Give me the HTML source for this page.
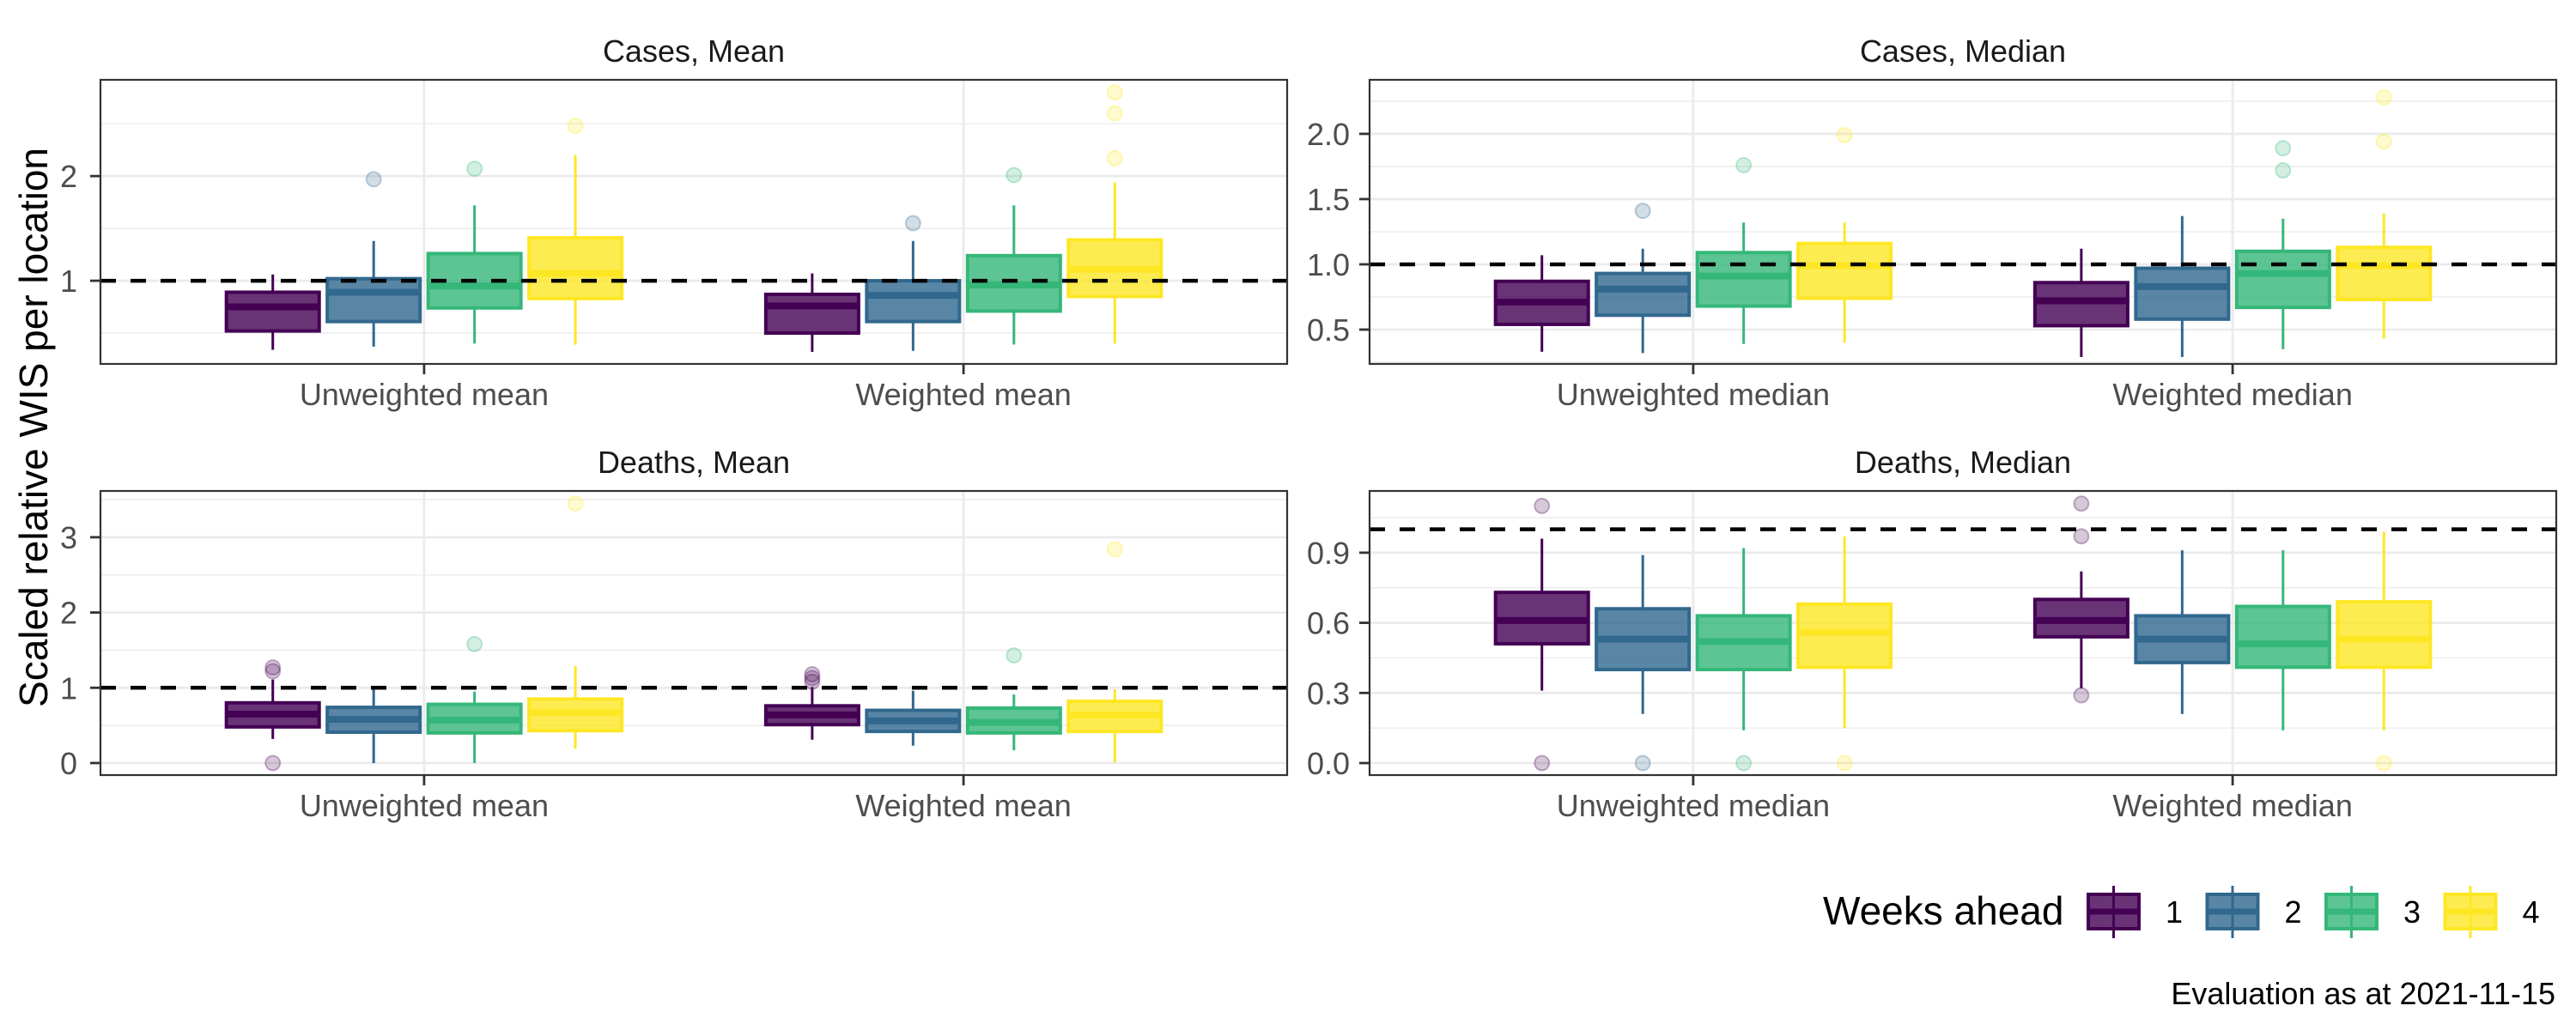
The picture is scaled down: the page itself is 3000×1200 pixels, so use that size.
<!DOCTYPE html>
<html><head><meta charset="utf-8"><style>
html,body{margin:0;padding:0;background:#fff;}
svg{display:block;font-family:"Liberation Sans",Arial,sans-serif;}
</style></head><body>
<svg id="chart" width="3000" height="1200" viewBox="0 0 3000 1200" xmlns="http://www.w3.org/2000/svg">
<text transform="translate(55,498) rotate(-90)" text-anchor="middle" font-size="46" fill="#000">Scaled relative WIS per location</text>
<g id="panels"></g>
<g id="legend">
<text x="2123" y="1077" font-size="46" fill="#000">Weeks ahead</text>
</g>
<text x="2976" y="1170" text-anchor="end" font-size="36" fill="#000">Evaluation as at 2021-11-15</text>
</svg>
<script>
const colors = ["#440154","#31688E","#35B779","#FDE725"];
const weeks = ["1","2","3","4"];
// Each box: [whiskerLow, q1, median, q3, whiskerHigh]
const casesMeanUnweighted = [[0.34,0.52,0.75,0.89,1.06],[0.37,0.61,0.89,1.02,1.38],[0.40,0.74,0.95,1.26,1.72],[0.39,0.83,1.07,1.41,2.20]];
const casesMeanWeighted   = [[0.32,0.50,0.76,0.87,1.07],[0.33,0.61,0.86,1.00,1.38],[0.39,0.71,0.96,1.24,1.72],[0.40,0.85,1.11,1.39,1.94]];
const casesMeanOutU = [[],[1.97],[2.07],[2.48]];
const casesMeanOutW = [[],[1.55],[2.01],[2.80,2.60,2.17]];
const casesMedUnweighted = [[0.33,0.54,0.71,0.87,1.07],[0.32,0.61,0.81,0.93,1.12],[0.39,0.68,0.91,1.09,1.32],[0.40,0.74,0.99,1.16,1.32]];
const casesMedWeighted   = [[0.29,0.53,0.72,0.86,1.12],[0.29,0.58,0.83,0.97,1.37],[0.35,0.67,0.93,1.10,1.35],[0.43,0.73,0.99,1.13,1.39]];
const casesMedOutU = [[],[1.41],[1.76],[1.99]];
const casesMedOutW = [[],[],[1.89,1.72],[2.28,1.94]];
const deathsMeanUnweighted = [[0.32,0.48,0.65,0.80,1.11],[0.0,0.41,0.58,0.74,0.99],[0.0,0.40,0.57,0.78,0.95],[0.19,0.43,0.67,0.85,1.29]];
const deathsMeanWeighted   = [[0.31,0.51,0.64,0.76,1.01],[0.23,0.42,0.56,0.70,0.96],[0.17,0.40,0.54,0.73,0.91],[0.01,0.42,0.64,0.82,0.98]];
const deathsMeanOutU = [[1.27,1.22,0.0],[],[1.58],[3.45]];
const deathsMeanOutW = [[1.18,1.13,1.08],[],[1.43],[2.84]];
const deathsMedUnweighted = [[0.31,0.51,0.61,0.73,0.96],[0.21,0.40,0.53,0.66,0.89],[0.14,0.40,0.52,0.63,0.92],[0.15,0.41,0.56,0.68,0.97]];
const deathsMedWeighted   = [[0.32,0.54,0.61,0.70,0.82],[0.21,0.43,0.53,0.63,0.91],[0.14,0.41,0.51,0.67,0.91],[0.14,0.41,0.53,0.69,0.99]];
const deathsMedOutU = [[1.10,0.0],[0.0],[0.0],[0.0]];
const deathsMedOutW = [[1.11,0.97,0.29],[],[],[0.0]];
const ticksCasesMean = [1,2];
const ticksCasesMed = [0.5,1.0,1.5,2.0];
const ticksDeathsMean = [0,1,2,3];
const ticksDeathsMed = [0.0,0.3,0.6,0.9];

const NS="http://www.w3.org/2000/svg";
function mk(tag,attrs,parent){const e=document.createElementNS(NS,tag);for(const k in attrs)e.setAttribute(k,attrs[k]);if(parent)parent.appendChild(e);return e;}

const panels=[
 {name:"cases-mean",title:"Cases, Mean",x0:117,x1:1499,y0:93,y1:424,vmin:0.205,vmax:2.92,ticks:ticksCasesMean,dec:0,minor:[0.5,1.5,2.5],cats:["Unweighted mean","Weighted mean"],data:[casesMeanUnweighted,casesMeanWeighted],out:[casesMeanOutU,casesMeanOutW],stripY:72,labY:472,tickX:90},
 {name:"cases-median",title:"Cases, Median",x0:1595,x1:2977,y0:93,y1:424,vmin:0.2368,vmax:2.414,ticks:ticksCasesMed,dec:1,minor:[0.25,0.75,1.25,1.75,2.25],cats:["Unweighted median","Weighted median"],data:[casesMedUnweighted,casesMedWeighted],out:[casesMedOutU,casesMedOutW],stripY:72,labY:472,tickX:1572},
 {name:"deaths-mean",title:"Deaths, Mean",x0:117,x1:1499,y0:572,y1:903,vmin:-0.16,vmax:3.615,ticks:ticksDeathsMean,dec:0,minor:[0.5,1.5,2.5,3.5],cats:["Unweighted mean","Weighted mean"],data:[deathsMeanUnweighted,deathsMeanWeighted],out:[deathsMeanOutU,deathsMeanOutW],stripY:551,labY:951,tickX:90},
 {name:"deaths-median",title:"Deaths, Median",x0:1595,x1:2977,y0:572,y1:903,vmin:-0.0514,vmax:1.164,ticks:ticksDeathsMed,dec:1,minor:[0.15,0.45,0.75,1.05],cats:["Unweighted median","Weighted median"],data:[deathsMedUnweighted,deathsMedWeighted],out:[deathsMedOutU,deathsMedOutW],stripY:551,labY:951,tickX:1572}
];
const root=document.getElementById('panels');
panels.forEach(p=>{
 const g=mk('g',{},root);
 
 
 const ys=v=>p.y1-(v-p.vmin)/(p.vmax-p.vmin)*(p.y1-p.y0);
 const W=p.x1-p.x0;
 const xs=c=>p.x0+(0.6+c)/2.2*W;
 const unit=W/2.2;
 const t=mk('text',{x:(p.x0+p.x1)/2,y:p.stripY,'text-anchor':'middle','font-size':36,fill:'#1a1a1a'},g);
 t.textContent=p.title;
 
 
 p.minor.forEach(v=>{const y=ys(v);if(y>p.y0&&y<p.y1){mk('line',{x1:p.x0,x2:p.x1,y1:y,y2:y,stroke:'#ebebeb','stroke-width':1.4},g);}});
 p.ticks.forEach(v=>{const y=ys(v);mk('line',{x1:p.x0,x2:p.x1,y1:y,y2:y,stroke:'#ebebeb','stroke-width':2.8},g);});
 p.cats.forEach((c,i)=>{mk('line',{x1:xs(i),x2:xs(i),y1:p.y0,y2:p.y1,stroke:'#ebebeb','stroke-width':2.8},g);});
 const slot=0.187*unit, bw=0.172*unit;
 p.data.forEach((cat,ci)=>{
  cat.forEach((b,wi)=>{
   const cx=xs(ci)+(wi-1.5)*slot, col=colors[wi];
   const bg=mk('g',{},g);
   
   
   mk('line',{x1:cx,x2:cx,y1:ys(b[0]),y2:ys(b[1]),stroke:col,'stroke-width':3},bg);
   mk('line',{x1:cx,x2:cx,y1:ys(b[3]),y2:ys(b[4]),stroke:col,'stroke-width':3},bg);
   mk('rect',{x:cx-bw/2,y:ys(b[3]),width:bw,height:ys(b[1])-ys(b[3]),fill:col,'fill-opacity':0.8,stroke:col,'stroke-width':4},bg);
   mk('line',{x1:cx-bw/2,x2:cx+bw/2,y1:ys(b[2]),y2:ys(b[2]),stroke:col,'stroke-width':8},bg);
   p.out[ci][wi].forEach(v=>{
    const o=mk('circle',{cx:cx,cy:ys(v),r:8.5,fill:col,'fill-opacity':0.22,stroke:col,'stroke-opacity':0.3,'stroke-width':2},g);
    
    
   });
  });
 });
 const yd=ys(1);
 const dl=mk('line',{x1:p.x0,x2:p.x1,y1:yd,y2:yd,stroke:'#000','stroke-width':4.5,'stroke-dasharray':'18 17'},g);
 
 
 const fr=mk('rect',{x:p.x0,y:p.y0,width:W,height:p.y1-p.y0,fill:'none',stroke:'#333','stroke-width':2.2},g);
 
 
 p.ticks.forEach(v=>{
  const y=ys(v);
  mk('line',{x1:p.x0-12,x2:p.x0,y1:y,y2:y,stroke:'#333','stroke-width':2.8},g);
  const tl=mk('text',{x:p.tickX,y:y+13,'text-anchor':'end','font-size':36,fill:'#4d4d4d'},g);
  tl.textContent=v.toFixed(p.dec);
  
  
 });
 p.cats.forEach((c,i)=>{
  mk('line',{x1:xs(i),x2:xs(i),y1:p.y1,y2:p.y1+12,stroke:'#333','stroke-width':2.8},g);
  const xl=mk('text',{x:xs(i),y:p.labY,'text-anchor':'middle','font-size':36,fill:'#4d4d4d'},g);
  xl.textContent=c;
  
  
 });
});
const lg=document.getElementById('legend');
weeks.forEach((w,i)=>{
 const x=2432+i*138.5, col=colors[i];
 const kg=mk('g',{},lg);
 
 
 mk('line',{x1:x+29.5,x2:x+29.5,y1:1032,y2:1093,stroke:col,'stroke-width':3},kg);
 mk('rect',{x:x,y:1042,width:59,height:40,fill:col,'fill-opacity':0.8,stroke:col,'stroke-width':4},kg);
 mk('line',{x1:x,x2:x+59,y1:1062,y2:1062,stroke:col,'stroke-width':7},kg);
 const lt=mk('text',{x:x+90,y:1075,'font-size':36,fill:'#000'},kg);
 lt.textContent=w;
});
</script>
</body></html>
